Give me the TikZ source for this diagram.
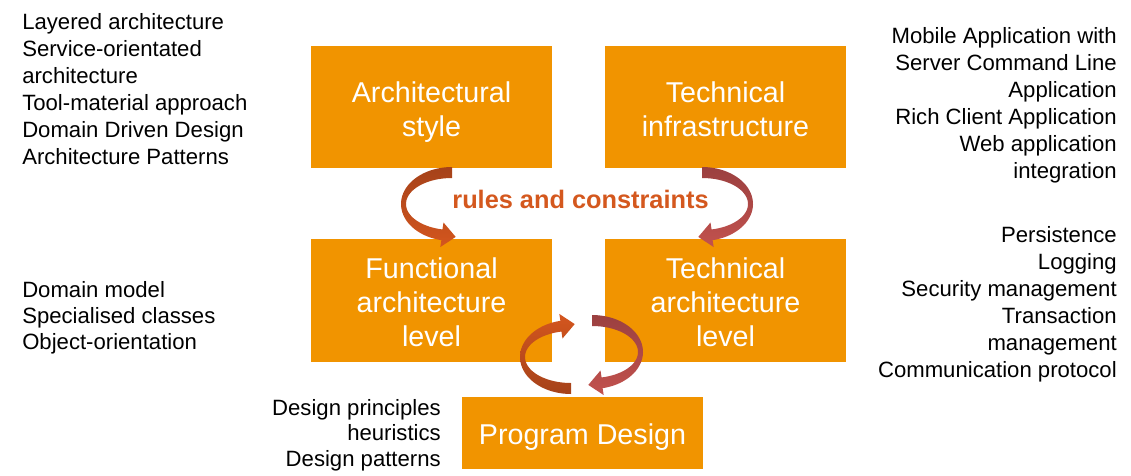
\documentclass[tikz,border=0pt]{standalone}
\usepackage{fontspec}
\setmainfont{Liberation Sans}
\definecolor{boxorange}{RGB}{241,148,0}
\definecolor{rulescol}{RGB}{212,88,30}
\definecolor{ldark}{RGB}{165,66,26}
\definecolor{llight}{RGB}{212,86,30}
\definecolor{rdark}{RGB}{155,64,64}
\definecolor{rlight}{RGB}{194,82,78}
% ribbon arrow: #1 cx, #2 cy, #3 sx, #4 sy, #5 top colour, #6 bottom colour
\newcommand\ribbonarrow[6]{%
  \shade[top color=#5, bottom color=#6]
    plot[domain=270:102, samples=40] ({#1+#3*51*cos(\x)},{#2+#4*37*sin(\x)})
    -- ({#1+#3*(-11.7)},{#2+#4*43.1})
    -- ({#1+#3*3.7},{#2+#4*32.9})
    -- ({#1+#3*(-8.5)},{#2+#4*18.5})
    -- plot[domain=102:270, samples=40] ({#1+#3*46*cos(\x)},{#2+#4*26*sin(\x)})
    -- cycle;}
\begin{document}
\begin{tikzpicture}[x=0.75pt,y=-0.75pt,
  box/.style={fill=boxorange, minimum width=180.75pt, inner sep=0pt},
  boxtext/.style={text=white, inner sep=0pt, align=center,
    font=\fontsize{21.5}{25.5}\selectfont},
  side/.style={inner sep=0pt, font=\fontsize{16.6}{20.25}\selectfont}]
\useasboundingbox (0,0) rectangle (1131,475);
% boxes
\node[box, minimum height=91.5pt] (as) at (431.5,107) {};
\node[box, minimum height=91.5pt] (ti) at (725.5,107) {};
\node[box, minimum height=92.25pt] (fa) at (431.5,300.5) {};
\node[box, minimum height=92.25pt] (ta) at (725.5,300.5) {};
\node[box, minimum height=54pt] (pd) at (582.5,433) {};
\node[boxtext] (ast) at ([yshift=-3.6pt]as.center) {Architectural\\style};
\node[boxtext] (tit) at ([yshift=-1.5pt]ti.center) {Technical\\infrastructure};
\node[boxtext] (fat) at ([yshift=-1.5pt]fa.center) {Functional\\architecture\\level};
\node[boxtext] (tat) at ([yshift=-1.5pt]ta.center) {Technical\\architecture\\level};
\node[boxtext] (pdt) at ([yshift=-3pt]pd.center) {Program Design};
% label
\node[inner sep=0pt, text=rulescol, font=\fontsize{19}{22}\selectfont\bfseries] (rc) at (580.5,199) {rules and constraints};
% side texts
\node[side, anchor=north west, align=left] (t1) at (22,13) {Layered architecture\\Service-orientated\\architecture\\Tool-material approach\\Domain Driven Design\\Architecture Patterns};
\node[side, anchor=north west, align=left, font=\fontsize{16.6}{19.5}\selectfont] (t2) at (22,281) {Domain model\\Specialised classes\\Object-orientation};
\node[side, anchor=north east, align=right] (t3) at (1117,27) {Mobile Application with\\Server Command Line\\Application\\Rich Client Application\\Web application\\integration};
\node[side, anchor=north east, align=right] (t4) at (1117,226) {Persistence\\Logging\\Security management\\Transaction\\management\\Communication protocol};
\node[side, anchor=north east, align=right, font=\fontsize{16.6}{19.2}\selectfont] (t5) at (441,399) {Design principles\\heuristics\\Design patterns};
% arrows
\ribbonarrow{452}{204}{1}{1}{ldark}{llight}
\ribbonarrow{702}{204}{-1}{1}{rdark}{rlight}
\ribbonarrow{571}{357}{1}{-1}{llight}{ldark}
\ribbonarrow{592}{352}{-1}{1}{rdark}{rlight}
\end{tikzpicture}
\end{document}
